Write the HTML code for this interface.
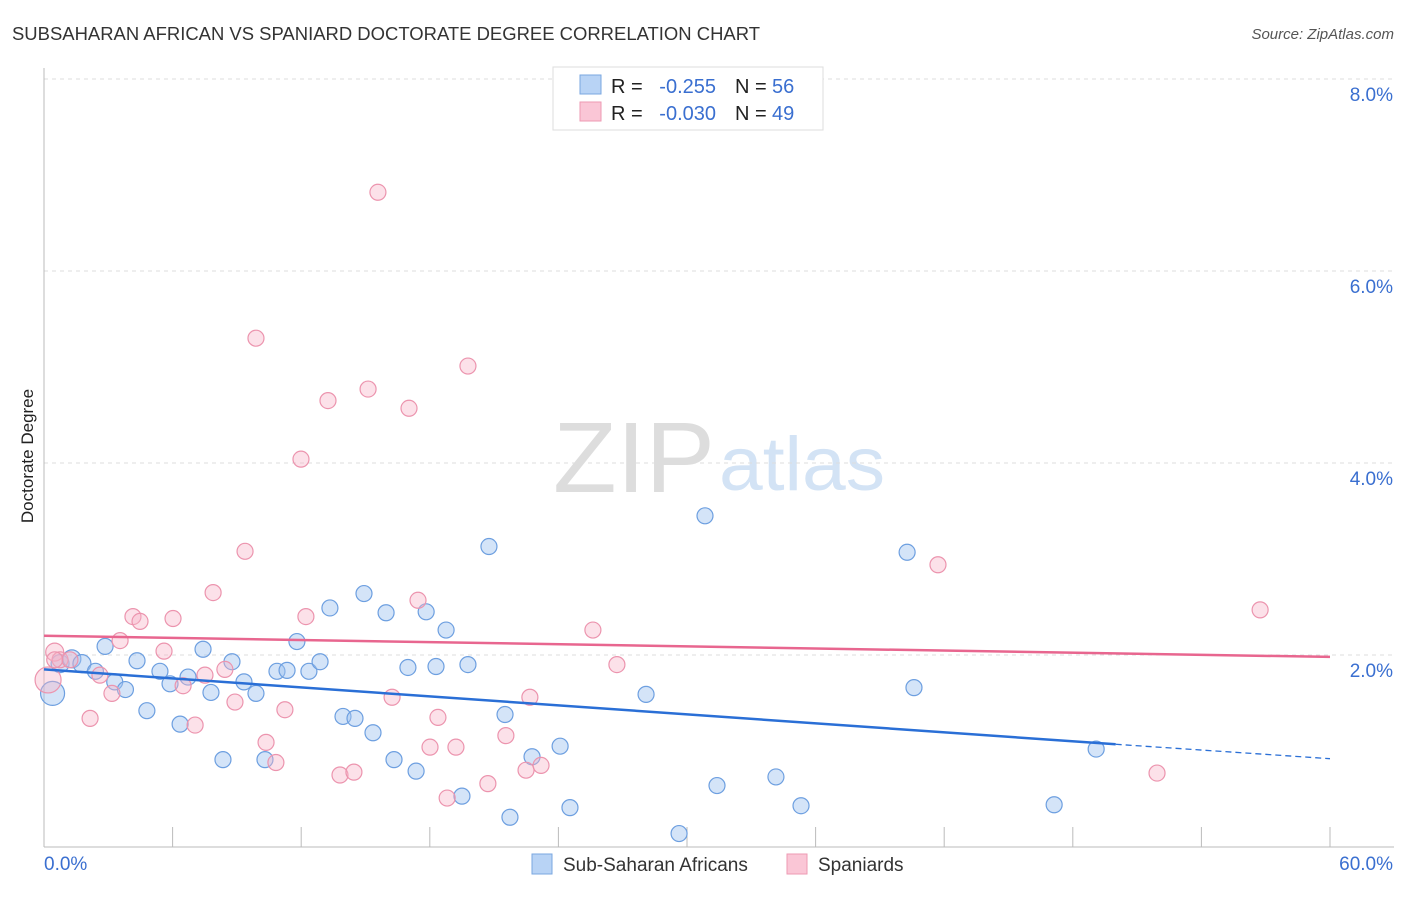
<!DOCTYPE html>
<html><head><meta charset="utf-8"><style>
body{margin:0;background:#fff;font-family:"Liberation Sans",sans-serif}
svg text{font-family:"Liberation Sans",sans-serif}
</style></head><body>
<svg id="chart" width="1406" height="892" viewBox="0 0 1406 892" xmlns="http://www.w3.org/2000/svg">
<text x="12" y="40" font-size="18" fill="#333" textLength="748" lengthAdjust="spacingAndGlyphs">SUBSAHARAN AFRICAN VS SPANIARD DOCTORATE DEGREE CORRELATION CHART</text>
<text x="1394" y="39" font-size="15" fill="#555" text-anchor="end" font-style="italic">Source: ZipAtlas.com</text>
<g>
<text x="553" y="492" font-size="100" fill="#ddd" font-family="Liberation Serif" textLength="162" lengthAdjust="spacingAndGlyphs">ZIP</text>
<text x="719" y="490" font-size="76" fill="#d3e3f5" textLength="166" lengthAdjust="spacingAndGlyphs">atlas</text>
</g>
<g id="grid"></g>
<g id="axes"></g>
<g id="points"></g>
<g id="trends"></g>
<text transform="translate(33,456) rotate(-90)" font-size="17" fill="#222" text-anchor="middle">Doctorate Degree</text>
<g>
<rect x="553" y="67" width="270" height="63" fill="#fff" stroke="#ddd"/>
<rect x="580" y="75" width="21" height="19" fill="#b8d3f5" stroke="#7aa7e0"/>
<rect x="580" y="102" width="21" height="19" fill="#fac6d6" stroke="#ee9ab3"/>
<text x="611" y="93" font-size="20" fill="#222">R =</text>
<text x="716" y="93" font-size="20" fill="#3a6fd0" text-anchor="end">-0.255</text>
<text x="735" y="93" font-size="20" fill="#222">N =</text>
<text x="772" y="93" font-size="20" fill="#3a6fd0">56</text>
<text x="611" y="120" font-size="20" fill="#222">R =</text>
<text x="716" y="120" font-size="20" fill="#3a6fd0" text-anchor="end">-0.030</text>
<text x="735" y="120" font-size="20" fill="#222">N =</text>
<text x="772" y="120" font-size="20" fill="#3a6fd0">49</text>
</g>
<g>
<rect x="532" y="854" width="20" height="20" fill="#b8d3f5" stroke="#7aa7e0"/>
<text x="563" y="871" font-size="19" fill="#333">Sub-Saharan Africans</text>
<rect x="787" y="854" width="20" height="20" fill="#fac6d6" stroke="#ee9ab3"/>
<text x="818" y="871" font-size="19" fill="#333">Spaniards</text>
</g>
</svg>
<script>
const yTicks=[2,4,6,8];
const yTickLabels=["2.0%","4.0%","6.0%","8.0%"];
const blueX=[0.4,0.75,1.3,1.77,2.4,2.85,3.3,3.8,4.34,4.8,5.41,5.88,6.35,6.72,7.42,7.79,8.35,8.77,9.33,9.89,10.31,10.87,11.34,11.8,12.36,12.88,13.34,13.95,14.51,14.93,15.35,15.96,16.33,16.98,17.36,17.83,18.29,18.76,19.5,19.78,20.76,21.51,21.74,22.77,24.08,24.54,28.09,29.63,30.84,31.4,34.15,35.32,40.27,40.59,47.13,49.09];
const blueY=[1.6,1.91,1.96,1.91,1.83,2.09,1.72,1.64,1.94,1.42,1.83,1.7,1.28,1.77,2.06,1.61,0.91,1.93,1.72,1.6,0.91,1.83,1.84,2.14,1.83,1.93,2.49,1.36,1.34,2.64,1.19,2.44,0.91,1.87,0.79,2.45,1.88,2.26,0.53,1.9,3.13,1.38,0.31,0.94,1.05,0.41,1.59,0.14,3.45,0.64,0.73,0.43,3.07,1.66,0.44,1.02];
const blueR=[12,9,9,9,8,8,8,8,8,8,8,8,8,8,8,8,8,8,8,8,8,8,8,8,8,8,8,8,8,8,8,8,8,8,8,8,8,8,8,8,8,8,8,8,8,8,8,8,8,8,8,8,8,8,8,8];
const pinkX=[0.19,0.5,0.75,1.21,2.15,2.61,3.17,3.55,4.15,4.48,5.6,6.02,6.49,7.05,7.51,7.89,8.44,8.91,9.38,9.89,10.36,10.82,11.24,11.99,12.22,13.25,13.81,14.46,15.12,15.58,16.24,17.03,17.45,18.01,18.38,18.81,19.22,19.78,20.71,21.55,22.49,22.67,23.19,25.61,26.73,41.71,51.93,56.74,0.5];
const pinkY=[1.74,2.03,1.95,1.95,1.34,1.79,1.6,2.15,2.4,2.35,2.04,2.38,1.68,1.27,1.79,2.65,1.85,1.51,3.08,5.3,1.09,0.88,1.43,4.04,2.4,4.65,0.75,0.78,4.77,6.82,1.56,4.57,2.57,1.04,1.35,0.51,1.04,5.01,0.66,1.16,0.8,1.56,0.85,2.26,1.9,2.94,0.77,2.47,1.95];
const pinkR=[13,9,8,8,8,8,8,8,8,8,8,8,8,8,8,8,8,8,8,8,8,8,8,8,8,8,8,8,8,8,8,8,8,8,8,8,8,8,8,8,8,8,8,8,8,8,8,8,8];
const blueTrend=[1.85,1.07,0.92]; // at x=0, 50, 60
const pinkTrend=[2.2,1.98];
const X0=44,X1=1330,Y0=847,PXY=96;
const sx=v=>X0+(v/60)*(X1-X0);
const sy=v=>Y0-v*PXY;
const NS="http://www.w3.org/2000/svg";
function mk(t,a,p){const e=document.createElementNS(NS,t);for(const k in a)e.setAttribute(k,a[k]);p.appendChild(e);return e;}
const grid=document.getElementById('grid'),axes=document.getElementById('axes'),pts=document.getElementById('points'),tr=document.getElementById('trends');
yTicks.forEach((t,i)=>{
 const l=mk('line',{x1:X0,x2:1394,y1:sy(t),y2:sy(t),stroke:'#ddd','stroke-dasharray':'4,4'},grid);
 
 
 const tx=mk('text',{x:1393,y:sy(t)+22,'font-size':19,fill:'#3a6fd0','text-anchor':'end'},axes);
 tx.textContent=yTickLabels[i];
 
 
});
const ax=mk('line',{x1:X0,x2:X0,y1:68,y2:Y0,stroke:'#bbb'},axes);


const bx=mk('line',{x1:X0,x2:1394,y1:Y0,y2:Y0,stroke:'#bbb'},axes);


for(let i=1;i<=10;i++){const t=mk('line',{x1:sx(i*6),x2:sx(i*6),y1:827,y2:Y0,stroke:'#bbb'},axes);
 
 }
const xl0=mk('text',{x:44,y:870,'font-size':19,fill:'#3a6fd0'},axes);xl0.textContent='0.0%';


const xl1=mk('text',{x:1393,y:870,'font-size':19,fill:'#3a6fd0','text-anchor':'end'},axes);xl1.textContent='60.0%';


blueX.forEach((v,i)=>{const c=mk('circle',{cx:sx(v),cy:sy(blueY[i]),r:blueR[i],fill:'rgba(160,196,240,0.45)',stroke:'#6d9fe0','stroke-width':1.2},pts);
 
 });
pinkX.forEach((v,i)=>{const c=mk('circle',{cx:sx(v),cy:sy(pinkY[i]),r:pinkR[i],fill:'rgba(248,180,200,0.4)',stroke:'#ec94ae','stroke-width':1.2},pts);
 
 });
const b1=mk('line',{x1:sx(0),y1:sy(blueTrend[0]),x2:sx(50),y2:sy(blueTrend[1]),stroke:'#2a6fd6','stroke-width':2.5},tr);


const b2=mk('line',{x1:sx(50),y1:sy(blueTrend[1]),x2:sx(60),y2:sy(blueTrend[2]),stroke:'#2a6fd6','stroke-width':1.3,'stroke-dasharray':'6,4'},tr);


const p1=mk('line',{x1:sx(0),y1:sy(pinkTrend[0]),x2:sx(60),y2:sy(pinkTrend[1]),stroke:'#e8668f','stroke-width':2.5},tr);


</script>
</body></html>
